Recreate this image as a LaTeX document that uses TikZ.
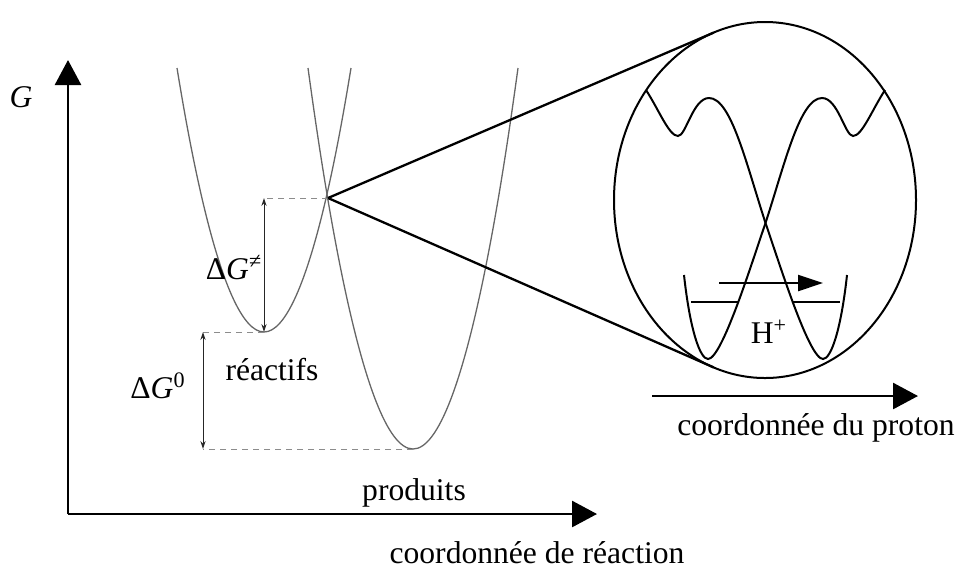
\documentclass[tikz,border=0pt]{standalone}
\usepackage{fontspec}
\setmainfont{Liberation Serif}
\usepackage{tikz}
\usetikzlibrary{
    arrows.meta,
    shapes.geometric,
    positioning
}
\tikzstyle{axis} = [
    line width=1.35pt,
    -{Triangle[length=12.5pt, width=13pt]}
]
\tikzstyle{curve} = [
    line width=0.65pt,
    draw=black!60
]
\tikzstyle{guide} = [
    dash pattern=on 3pt off 2.5pt,
    line width=0.5pt,
    draw=black!45
]
\tikzstyle{gap} = [
    line width=0.5pt,
    draw=black!85,
    {Stealth[length=4pt, width=2.6pt]}-{Stealth[length=4pt, width=2.6pt]}
]
\tikzstyle{link} = [
    line width=1.15pt
]
\tikzstyle{loupe} = [
    ellipse,
    draw,
    line width=1pt,
    minimum width=151pt,
    minimum height=178pt,
    inner sep=0pt,
    outer sep=0pt
]
\tikzstyle{wave} = [
    line width=1pt
]
\tikzstyle{hop} = [
    line width=1.2pt,
    -{Triangle[length=12.5pt, width=8pt]}
]
\tikzstyle{txt} = [
    font=\fontsize{15.8}{19}\selectfont,
    inner sep=0pt,
    anchor=base
]

\begin{document}
\begin{tikzpicture}[x=0.5pt, y=-0.5pt]
        \useasboundingbox (0,0) rectangle (957,570);

        % Axes
        \coordinate (origin) at (68,514);
        \coordinate (gtop) at (68,60);
        \coordinate (xend) at (597,514);
        \draw[axis] (origin) -- (gtop);
        \draw[axis] (origin) -- (xend);
        \node[txt] (glabel) at (21,107) {\textit{G}};
        \node[txt] (xlabel) at (537,563) {coordonnée de réaction};

        % Free energy parabolas
        \coordinate (reac) at (264,332);
        \coordinate (prod) at (413,449);
        \coordinate (ts) at (328,198);
        \coordinate (zerocol) at (203,0);
        \draw[curve] (177,68) parabola bend (reac) (351,68);
        \draw[curve] (308,68) parabola bend (prod) (518,68);

        % Energy gaps
        \draw[guide] (ts) -- (ts -| reac);
        \draw[guide] (reac) -- (reac -| zerocol);
        \draw[guide] (prod) -- (prod -| zerocol);
        \draw[gap] (ts -| reac) -- (reac);
        \draw[gap] (reac -| zerocol) -- (prod -| zerocol);
        \node[txt] (dgts) at (234,279) {Δ\textit{G}\textsuperscript{≠}};
        \node[txt] (dgzero) at (158,398) {Δ\textit{G}\textsuperscript{0}};
        \node[txt] (reaclabel) at (272,380) {réactifs};
        \node[txt] (prodlabel) at (414,500) {produits};

        % Zoom on the crossing
        \node[loupe] (zoom) at (765,200) {};
        \draw[link] (ts) -- (zoom.107);
        \draw[link] (ts) -- (zoom.253);

        % Proton wells
        \foreach \s in {1,-1} {
            \begin{scope}[shift={(765.5,0)}, xscale=\s]
                \draw[wave] (-81.5,275) .. controls (-75.5,330) and (-65.5,359) .. (-57.5,359)
                    .. controls (-43.5,359) and (-13.5,262) .. (0,223)
                    .. controls (19.5,163) and (34.5,98) .. (56.5,98)
                    .. controls (72.5,98) and (79.5,136) .. (87.5,136)
                    .. controls (96.5,136) and (106.5,110) .. (119.5,90);
                \draw[wave] (-74.5,302) -- (-26.5,302);
            \end{scope}
        }
        \coordinate (hstart) at (719,283);
        \coordinate (hend) at (823,283);
        \draw[hop] (hstart) -- (hend);
        \node[txt] (hplus) at (769,343) {H\textsuperscript{+}};

        % Proton axis
        \coordinate (pstart) at (652,396);
        \coordinate (pend) at (918,396);
        \draw[axis] (pstart) -- (pend);
        \node[txt] (pxlabel) at (816,435) {coordonnée du proton};
    \end{tikzpicture}
\end{document}
